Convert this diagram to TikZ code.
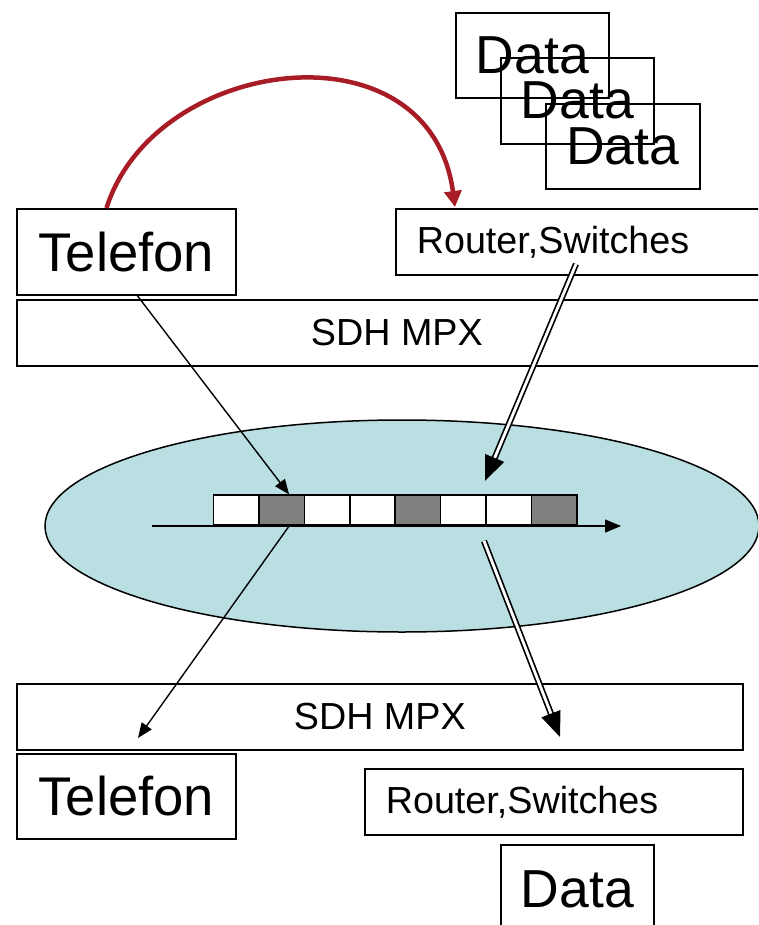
\documentclass[tikz,border=0pt]{standalone}
\usepackage{fontspec}
\setmainfont{Liberation Sans}
\usetikzlibrary{arrows.meta,calc,shapes.geometric}
\definecolor{netfill}{RGB}{185,223,227}
\definecolor{curvered}{RGB}{168,29,37}
\definecolor{slotgray}{RGB}{128,128,128}
\tikzset{
  box/.style={draw=black, line width=1.7pt, inner sep=0pt, anchor=north west},
  bigtext/.style={font=\fontsize{54.5}{62}\selectfont},
  datatext/.style={font=\fontsize{53.5}{60}\selectfont},
  midtext/.style={font=\fontsize{37.7}{44}\selectfont},
  slotbox/.style={draw=black, line width=1.6pt, minimum width=45.4pt, minimum height=30pt, inner sep=0pt, anchor=south west},
  thinarrow/.style={line width=1.4pt, -{Triangle[length=15pt,width=12pt]}},
  dblarrow/.style={double, double distance=2.8pt, line width=1.7pt, -{Triangle[length=25pt,width=20pt]}},
}
\begin{document}
\begin{tikzpicture}[x=1pt,y=-1pt]
\useasboundingbox (0,0) rectangle (758,925);
\clip (0,0) rectangle (758,925);

% stacked data packets
\node[box, minimum width=153pt, minimum height=85pt, datatext] (d1) at (455,12) {Data};
\node[box, minimum width=153pt, minimum height=86pt, datatext] (d2) at (500,57) {Data};
\node[box, minimum width=154pt, minimum height=85pt, datatext] (d3) at (545,103) {Data};

% upper side
\node[box, minimum width=219pt, minimum height=86pt, bigtext] (tel1) at (16,208) {Telefon};
\node[box, minimum height=66pt, text width=360pt, inner xsep=21pt, align=left, midtext] (rs1) at (395,208) {Router,Switches};
\node[box, minimum width=760pt, minimum height=66pt, midtext] (mpx1) at (16,299) {SDH MPX};

% transport network
\node[ellipse, draw=black, line width=1.5pt, fill=netfill, minimum width=714pt, minimum height=212pt, inner sep=0pt] (net) at (402,526) {};
\foreach \i/\f in {1/white,2/slotgray,3/white,4/white,5/slotgray,6/white,7/white,8/slotgray}{
  \node[slotbox, fill=\f] (s\i) at ({212.7+(\i-1)*45.4},526) {};
}
\coordinate (axisL) at (152,526);
\coordinate (axisR) at (621,526);
\draw[line width=1.4pt, -{Triangle[length=16pt,width=13pt]}] (axisL) -- (axisR);

% lower side
\node[box, minimum width=726pt, minimum height=66pt, midtext] (mpx2) at (16,683) {SDH MPX};
\node[box, minimum width=219pt, minimum height=85pt, bigtext] (tel2) at (16,753) {Telefon};
\node[box, minimum width=378pt, minimum height=66pt, text width=336pt, inner xsep=21pt, align=left, midtext] (rs2) at (364,768) {Router,Switches};
\node[box, minimum width=153pt, minimum height=88pt, datatext] (d4) at (500,844) {Data};

% connectors
\coordinate (telOut) at ($(tel1.south west)!0.55!(tel1.south east)$);
\coordinate (slotIn) at ($(s2.north west)!0.66!(s2.north east)$);
\coordinate (slotOut) at ($(s2.south west)!0.66!(s2.south east)$);
\coordinate (telIn) at (138,738);
\draw[thinarrow] (telOut) -- (slotIn);
\draw[thinarrow] (slotOut) -- (telIn);

\coordinate (rsOut) at (576,264);
\coordinate (netIn) at (485,481);
\coordinate (netOut) at (484,541);
\coordinate (rsIn) at (560,737);
\draw[dblarrow] (rsOut) -- (netIn);
\draw[dblarrow] (netOut) -- (rsIn);

\coordinate (redStart) at ($(tel1.north west)!0.41!(tel1.north east)$);
\coordinate (redEnd) at (455,207);
\draw[curvered, line width=4.5pt, -{Triangle[length=16pt,width=17pt]}] (redStart) .. controls (155,55) and (430,20) .. (redEnd);
\end{tikzpicture}
\end{document}
